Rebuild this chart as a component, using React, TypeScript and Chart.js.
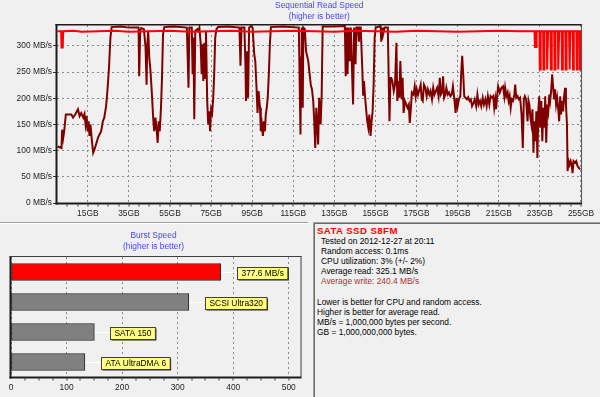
import React, { useEffect, useRef } from 'react';
import { Chart, registerables } from 'chart.js';

Chart.register(...registerables);

const FONT_FAMILY = '"Liberation Sans", Arial, sans-serif';
const FONT_SIZE = 8.4;
const TITLE_BLUE = '#4646ff';
const TEXT_COLOR = '#1e1e1e';

// ---------- Sequential read chart ----------
const seqTitle = ['Sequential Read Speed', '(higher is better)'];
const gbTicks = [15, 35, 55, 75, 95, 115, 135, 155, 175, 195, 215, 235, 255];
const mbTicks = [0, 50, 100, 150, 200, 250, 300];

// Red line (read speed)
const readGB = [
  0.3, 2.0, 2.2, 2.8, 3.0, 8, 12, 20, 28, 35, 45, 55, 65, 75, 85, 95, 105, 115, 125, 135,
  145, 155, 165, 175, 185, 195, 205, 215, 225, 232.4, 232.6, 233.2, 233.4,
  234.8, 234.95, 235.25, 235.4, 236.6, 236.75, 237.05, 237.2, 238.4, 238.55, 238.85, 239.0,
  240.2, 240.35, 240.65, 240.8, 242.0, 242.15, 242.45, 242.6, 243.8, 243.95, 244.25, 244.4,
  245.6, 245.75, 246.05, 246.2, 247.4, 247.55, 247.85, 248.0, 249.2, 249.35, 249.65, 249.8,
  251.0, 251.15, 251.45, 251.6, 252.8, 252.95, 253.25, 253.4, 254.4, 254.55, 254.85, 255.0, 255.2,
];
const readMB = [
  328, 328, 297, 297, 328, 329, 327, 328, 329, 327, 328, 329, 327, 328, 329, 327, 328, 329, 328, 327,
  329, 328, 327, 329, 328, 327, 328, 329, 328, 328, 298, 298, 328,
  328, 255, 255, 328, 328, 255, 255, 328, 328, 255, 255, 328,
  328, 255, 255, 328, 328, 255, 255, 328, 328, 255, 255, 328,
  328, 255, 255, 328, 328, 255, 255, 328, 328, 255, 255, 328,
  328, 255, 255, 328, 328, 255, 255, 328, 328, 255, 255, 328, 328,
];

// Dark red line (write speed)
const writeGB = [
  0.3, 2.2, 2.5, 3.0, 3.5, 4.3, 7.0, 7.8, 9.0, 10.2, 11.0, 11.8, 12.8, 13.4, 13.9, 14.4, 14.9, 15.4, 15.8, 16.3,
  17.0, 17.6, 18.2, 19.0, 19.9, 20.7, 21.5, 22.3, 23.0, 23.9, 24.7, 25.3, 26.0, 26.6, 31.0, 35.0, 39.7, 40.0, 40.5, 41.0,
  42.3, 43.1, 43.6, 43.9, 44.4, 44.9, 45.5, 46.1, 46.8, 47.3, 47.9, 48.4, 49.0, 49.5, 50.0, 50.6, 51.1, 51.6, 52.2, 57.0,
  63.2, 63.6, 64.0, 64.4, 65.6, 66.0, 66.4, 66.8, 67.3, 68.3, 68.8, 69.3, 69.9, 70.4, 70.9, 71.2, 71.7, 72.1, 72.5, 73.1,
  73.6, 74.1, 74.5, 75.0, 75.5, 76.0, 76.5, 77.0, 77.6, 78.4, 83.0, 88.8, 89.3, 89.8, 91.2, 91.7, 92.0, 92.5, 93.0, 93.5,
  94.4, 95.2, 96.0, 96.5, 97.1, 97.6, 98.1, 98.8, 99.2, 99.7, 100.2, 100.7, 101.2, 101.6, 102.1, 102.6, 103.1, 103.6, 104.1, 110.0,
  117.7, 118.5, 118.8, 119.1, 119.6, 119.9, 120.6, 121.2, 121.9, 122.3, 122.8, 123.5, 124.1, 124.7, 125.2, 125.7, 126.2, 126.7, 127.1, 127.6,
  128.3, 128.8, 129.3, 135.0, 140.1, 140.5, 140.9, 141.4, 141.9, 142.5, 143.0, 143.7, 144.1, 144.6, 145.3, 145.7, 146.5, 146.9, 147.4, 147.8,
  148.5, 149.0, 149.4, 149.9, 150.6, 151.0, 151.5, 152.0, 152.6, 153.1, 153.6, 154.1, 154.6, 155.1, 157.5, 157.8, 158.3, 158.7, 159.4, 161.0,
  161.8, 162.3, 162.7, 163.2, 163.9, 164.5, 165.2, 165.6, 166.1, 166.6, 167.1, 167.7, 168.2, 168.7, 169.3, 170.0, 170.6, 171.2, 171.7, 172.2,
  172.7, 173.5, 174.1, 174.6, 175.1, 175.7, 176.4, 177.0, 177.5, 178.0, 178.6, 179.3, 179.9, 180.5, 181.2, 181.8, 182.5, 183.1, 183.7, 184.4,
  185.0, 185.7, 186.3, 186.8, 187.4, 187.9, 188.4, 189.0, 189.5, 190.2, 190.8, 191.5, 192.1, 192.7, 193.4, 194.0, 194.5, 195.0, 195.6, 196.3,
  196.7, 197.2, 197.7, 198.2, 198.8, 199.5, 200.1, 200.8, 201.4, 202.0, 202.7, 203.3, 204.0, 204.6, 205.2, 205.9, 206.5, 207.2, 207.8, 208.5,
  209.1, 209.7, 210.4, 211.0, 211.7, 212.3, 212.8, 213.3, 213.7, 214.2, 214.7, 215.5, 216.3, 217.1, 217.7, 218.1, 218.7, 219.3, 219.8, 220.3,
  220.8, 221.3, 221.9, 222.6, 223.0, 223.5, 224.2, 224.8, 225.4, 226.1, 226.7, 227.2, 227.7, 228.3, 229.0, 229.5, 229.9, 230.4, 230.9, 231.4,
  231.9, 232.3, 232.8, 233.3, 233.8, 234.3, 234.7, 235.2, 235.7, 236.2, 236.7, 237.2, 237.6, 238.1, 238.6, 239.1, 239.6, 240.0, 240.5, 241.0,
  241.5, 242.0, 242.4, 242.9, 243.4, 243.9, 244.4, 244.9, 245.3, 245.8, 246.3, 246.8, 247.3, 247.7, 248.2, 248.5, 249.0, 249.5, 250.0, 250.5,
  250.9, 251.4, 252.1, 252.7, 253.4, 254.0, 254.6,
];
const writeMB = [
  108, 105, 140, 124, 137, 169, 169, 163, 170, 179, 166, 172, 163, 170, 150, 166, 137, 156, 128, 150,
  118, 96, 102, 112, 124, 131, 137, 156, 163, 185, 223, 258, 316, 336, 337, 335, 335, 242, 329, 334,
  332, 297, 226, 297, 329, 278, 252, 214, 163, 137, 163, 144, 115, 156, 137, 182, 239, 322, 336, 337,
  335, 278, 220, 335, 335, 246, 316, 160, 329, 332, 329, 335, 306, 246, 303, 233, 306, 239, 329, 195,
  150, 175, 137, 179, 172, 198, 246, 316, 332, 336, 337, 335, 262, 335, 335, 265, 195, 290, 201, 335,
  338, 335, 284, 271, 220, 172, 214, 182, 137, 150, 128, 156, 137, 169, 182, 204, 246, 303, 336, 337,
  335, 131, 278, 335, 182, 335, 332, 290, 278, 271, 252, 226, 217, 195, 156, 105, 182, 150, 112, 201,
  150, 204, 337, 337, 338, 242, 335, 246, 335, 271, 335, 239, 188, 335, 265, 335, 335, 308, 335, 335,
  265, 207, 233, 204, 172, 156, 144, 169, 128, 156, 175, 226, 316, 335, 338, 308, 335, 322, 335, 335,
  156, 239, 239, 233, 214, 226, 306, 195, 233, 201, 271, 198, 239, 172, 195, 188, 182, 188, 153, 179,
  211, 207, 223, 204, 217, 207, 217, 226, 198, 195, 226, 220, 204, 217, 207, 214, 198, 220, 207, 214,
  220, 204, 239, 207, 211, 242, 201, 207, 220, 207, 211, 204, 207, 223, 198, 172, 201, 185, 198, 204,
  246, 281, 246, 204, 201, 198, 202, 195, 198, 185, 191, 198, 185, 207, 188, 195, 185, 201, 188, 198,
  185, 204, 188, 204, 201, 204, 182, 198, 179, 204, 223, 211, 220, 223, 204, 220, 204, 211, 195, 204,
  182, 198, 195, 207, 226, 201, 204, 198, 201, 169, 105, 198, 204, 198, 156, 195, 188, 163, 150, 179,
  96, 156, 118, 175, 86, 179, 204, 144, 195, 118, 182, 144, 204, 115, 188, 175, 207, 195, 214, 246,
  220, 198, 217, 188, 201, 182, 156, 204, 169, 195, 175, 204, 220, 188, 150, 61, 80, 73, 80, 73,
  57, 80, 77, 80, 70, 67, 64,
];

// ---------- Burst speed chart ----------
const burstTitle = ['Burst Speed', '(higher is better)'];
const burstNames = ['SATA SSD S8FM', 'SCSI Ultra320', 'SATA 150', 'ATA UltraDMA 6'];
const burstValues = [377.6, 320, 150, 133];
const burstTags = ['377.6 MB/s', 'SCSI Ultra320', 'SATA 150', 'ATA UltraDMA 6'];
const burstColors = ['#ff0000', '#808080', '#808080', '#808080'];
const burstTicks = [0, 100, 200, 300, 400, 500];

// ---------- Info panel ----------
const driveName = 'SATA SSD S8FM';
const infoLines = [
  'Tested on 2012-12-27 at 20:11',
  'Random access: 0.1ms',
  'CPU utilization: 3% (+/- 2%)',
  'Average read: 325.1 MB/s',
];
const writeLine = 'Average write: 240.4 MB/s';
const noteLines = [
  'Lower is better for CPU and random access.',
  'Higher is better for average read.',
  'MB/s = 1,000,000 bytes per second.',
  'GB = 1,000,000,000 bytes.',
];

const font = (s = FONT_SIZE, w = 'normal') => `${w} ${s}px ${FONT_FAMILY}`;

const seqDecor = {
  id: 'seqDecor',
  afterDraw(chart: any) {
    const { ctx, chartArea: a } = chart;
    const xs = chart.scales.x;
    ctx.save();
    ctx.fillStyle = TITLE_BLUE;
    ctx.font = font();
    ctx.textAlign = 'center';
    ctx.textBaseline = 'middle';
    const cx = (a.left + a.right) / 2;
    ctx.fillText(seqTitle[0], cx, 5.5);
    ctx.fillText(seqTitle[1], cx, 16.5);
    // frame
    ctx.fillStyle = '#1c1c1c';
    ctx.fillRect(a.left - 1.5, a.top - 1, a.width + 2, 1.5);
    ctx.fillRect(a.left - 1.5, a.top - 1, 2, a.height + 2.5);
    ctx.fillRect(a.left - 1.5, a.bottom - 0.5, a.width + 2, 2);
    ctx.fillStyle = '#505050';
    ctx.fillRect(a.right - 0.5, a.top - 1, 1, a.height + 1);
    // minor ticks
    ctx.fillStyle = '#333';
    for (let g = 5; g < 256; g += 5) {
      const px = Math.round(xs.getPixelForValue(g)) - 0.5;
      ctx.fillRect(px, a.bottom + 1.5, 1, 2);
    }
    ctx.restore();
  },
};

const burstDecor = {
  id: 'burstDecor',
  beforeDatasetsDraw(chart: any) {
    const { ctx } = chart;
    const meta = chart.getDatasetMeta(0);
    ctx.save();
    meta.data.forEach((bar: any) => {
      ctx.strokeStyle = '#ffffff';
      ctx.lineWidth = 1;
      ctx.beginPath();
      ctx.moveTo(bar.x, Math.round(bar.y) + 0.5);
      ctx.lineTo(bar.x + 16, Math.round(bar.y) + 0.5);
      ctx.stroke();
    });
    ctx.restore();
  },
  afterDraw(chart: any) {
    const { ctx, chartArea: a } = chart;
    const xs = chart.scales.x;
    ctx.save();
    ctx.fillStyle = TITLE_BLUE;
    ctx.font = font();
    ctx.textAlign = 'center';
    ctx.textBaseline = 'middle';
    const cx = (a.left + a.right) / 2 - 2.5;
    ctx.fillText(burstTitle[0], cx, 11.7);
    ctx.fillText(burstTitle[1], cx, 22.7);
    // frame
    ctx.fillStyle = '#1c1c1c';
    ctx.fillRect(a.left - 1.5, a.top - 1, 2, a.height + 2.5);
    ctx.fillRect(a.left - 1.5, a.bottom - 0.5, a.width + 2, 2);
    ctx.fillStyle = '#404040';
    ctx.fillRect(a.left - 1.5, a.top - 1, a.width + 2, 1);
    ctx.fillRect(a.right - 0.5, a.top - 1, 1, a.height + 1);
    // minor ticks
    ctx.fillStyle = '#333';
    for (let v = 25; v < 520; v += 25) {
      const px = Math.round(xs.getPixelForValue(v)) - 0.5;
      ctx.fillRect(px, a.bottom + 1.5, 1, 2);
    }
    // tags
    const meta = chart.getDatasetMeta(0);
    ctx.font = font();
    ctx.textAlign = 'left';
    meta.data.forEach((bar: any, i: number) => {
      const text = burstTags[i];
      const w = ctx.measureText(text).width + 8;
      const bx = Math.round(bar.x + 16) + 0.5;
      const by = Math.round(bar.y - 5.5) + 0.5;
      const h = 12;
      ctx.fillStyle = '#202020';
      ctx.fillRect(bx + 1, by + 1, w, h);
      ctx.fillStyle = '#ffff80';
      ctx.fillRect(bx, by, w, h);
      ctx.strokeStyle = '#404040';
      ctx.lineWidth = 1;
      ctx.strokeRect(bx, by, w, h);
      ctx.fillStyle = '#000';
      ctx.textBaseline = 'middle';
      ctx.fillText(text, bx + 4, by + h / 2 + 0.5);
    });
    ctx.restore();
  },
};

export default function App() {
  const seqRef = useRef<HTMLCanvasElement | null>(null);
  const burstRef = useRef<HTMLCanvasElement | null>(null);

  useEffect(() => {
    Chart.defaults.font.family = FONT_FAMILY;
    Chart.defaults.font.size = FONT_SIZE;
    Chart.defaults.color = TEXT_COLOR;

    const seq = new Chart(seqRef.current as HTMLCanvasElement, {
      type: 'line',
      data: {
        datasets: [
          {
            label: 'Read',
            data: readGB.map((x, i) => ({ x, y: readMB[i] })),
            borderColor: '#ff0000',
            borderWidth: 2,
            pointRadius: 0,
            tension: 0,
            order: 0,
          },
          {
            label: 'Write',
            data: writeGB.map((x, i) => ({ x, y: writeMB[i] })),
            borderColor: '#800000',
            borderWidth: 2,
            pointRadius: 0,
            tension: 0,
            order: 1,
          },
        ],
      },
      options: {
        responsive: false,
        animation: false,
        events: [],
        layout: { padding: { left: 0, right: 13, top: 25, bottom: 0 } },
        plugins: { legend: { display: false }, tooltip: { enabled: false }, title: { display: false } },
        scales: {
          x: {
            type: 'linear',
            min: 0,
            max: 255.3,
            afterBuildTicks: (s: any) => {
              s.ticks = gbTicks.map((v) => ({ value: v }));
            },
            afterFit: (s: any) => {
              s.height = 17;
            },
            ticks: {
              callback: (v: any) => `${v}GB`,
              autoSkip: false,
              maxRotation: 0,
              padding: 6,
              color: TEXT_COLOR,
              font: { size: FONT_SIZE, family: FONT_FAMILY },
            },
            grid: { color: '#8c8c8c', lineWidth: 1, drawTicks: false },
            border: { display: false, dash: [2, 3] },
          },
          y: {
            type: 'linear',
            min: 0,
            max: 340,
            afterBuildTicks: (s: any) => {
              s.ticks = mbTicks.map((v) => ({ value: v }));
            },
            afterFit: (s: any) => {
              s.width = 57;
            },
            ticks: {
              callback: (v: any) => `${v} MB/s`,
              padding: 1,
              color: TEXT_COLOR,
              font: { size: FONT_SIZE, family: FONT_FAMILY },
            },
            grid: { color: '#8c8c8c', lineWidth: 1, drawTicks: true, tickLength: 4, tickColor: '#333' },
            border: { display: false, dash: [2, 3] },
          },
        },
      },
      plugins: [seqDecor],
    } as any);

    const burst = new Chart(burstRef.current as HTMLCanvasElement, {
      type: 'bar',
      data: {
        labels: burstNames,
        datasets: [
          {
            label: 'Burst Speed',
            data: burstValues,
            backgroundColor: burstColors,
            borderColor: '#2a2a2a',
            borderWidth: 1,
            borderSkipped: false,
            barThickness: 17,
          },
        ],
      },
      options: {
        indexAxis: 'y',
        responsive: false,
        animation: false,
        events: [],
        layout: { padding: { left: 11, right: 9, top: 33, bottom: 0 } },
        plugins: { legend: { display: false }, tooltip: { enabled: false }, title: { display: false } },
        scales: {
          x: {
            type: 'linear',
            min: 0,
            max: 522,
            afterBuildTicks: (s: any) => {
              s.ticks = burstTicks.map((v) => ({ value: v }));
            },
            afterFit: (s: any) => {
              s.height = 20;
            },
            ticks: {
              autoSkip: false,
              maxRotation: 0,
              padding: 6,
              color: TEXT_COLOR,
              font: { size: FONT_SIZE, family: FONT_FAMILY },
            },
            grid: { color: '#8c8c8c', lineWidth: 1, drawTicks: false },
            border: { display: false, dash: [2, 3] },
          },
          y: { type: 'category', display: false, grid: { display: false } },
        },
      },
      plugins: [burstDecor],
    } as any);

    return () => {
      seq.destroy();
      burst.destroy();
    };
  }, []);

  const base: React.CSSProperties = {
    font: `${FONT_SIZE}px ${FONT_FAMILY}`,
    lineHeight: '10.1px',
    whiteSpace: 'pre',
    height: '10.1px',
  };

  return (
    <div
      style={{
        position: 'absolute',
        left: 0,
        top: 0,
        width: 600,
        height: 397,
        background: '#f0f0f0',
        overflow: 'hidden',
      }}
    >
      <canvas ref={seqRef} width={600} height={220} style={{ position: 'absolute', left: 0, top: 0 }} />
      <div style={{ position: 'absolute', left: 0, top: 222, width: 308, height: 1, background: '#a0a0a0' }} />
      <div style={{ position: 'absolute', left: 0, top: 223, width: 308, height: 1, background: '#ffffff' }} />
      <canvas ref={burstRef} width={310} height={173} style={{ position: 'absolute', left: 0, top: 224 }} />
      <div
        style={{
          position: 'absolute',
          left: 313,
          top: 222,
          width: 287,
          height: 175,
          boxSizing: 'border-box',
          borderLeft: '1px solid #a0a0a0',
          borderTop: '1px solid #a0a0a0',
          boxShadow: 'inset 1px 1px 0 #696969',
          padding: '3px 0 0 3px',
          color: '#000',
        }}
      >
        <div style={{ ...base, color: '#ff0000', fontWeight: 'bold', fontSize: '9.6px', letterSpacing: '0.45px' }}>
          {driveName}
        </div>
        {infoLines.map((t) => (
          <div key={t} style={{ ...base, paddingLeft: 4 }}>
            {t}
          </div>
        ))}
        <div style={{ ...base, paddingLeft: 4, color: '#a83232' }}>{writeLine}</div>
        <div style={base}> </div>
        {noteLines.map((t) => (
          <div key={t} style={base}>
            {t}
          </div>
        ))}
      </div>
    </div>
  );
}
